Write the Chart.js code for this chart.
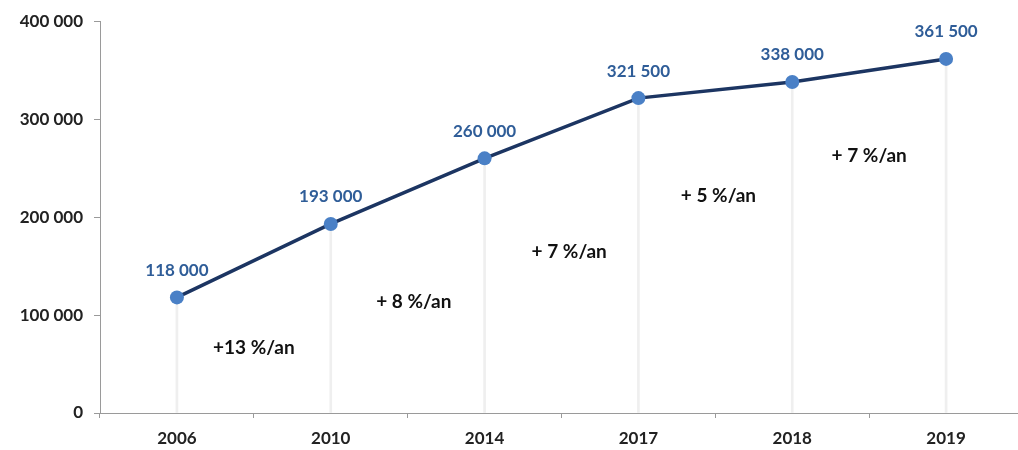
<!DOCTYPE html>
<html>
<head>
<meta charset="utf-8">
<script src="https://cdn.jsdelivr.net/npm/chart.js@4/dist/chart.umd.min.js"></script>
<style>
html,body{margin:0;padding:0;background:#fff;overflow:hidden;}
#wrap{width:1030px;height:450px;position:relative;}
</style>
</head>
<body>
<div id="wrap"><canvas id="c" width="1030" height="450"></canvas></div>
<script>
const categories = ['2006', '2010', '2014', '2017', '2018', '2019'];
const values = [118000, 193000, 260000, 321500, 338000, 361500];
const yTicks = [0, 100000, 200000, 300000, 400000];
const growthLabels = ['+13 %/an', '+ 8 %/an', '+ 7 %/an', '+ 5 %/an', '+ 7 %/an'];
const growthX = [0.5, 1.54, 2.55, 3.52, 4.5];
const growthY = [66000, 113000, 164000, 222000, 263000];

const FONT = 'Lato, "Open Sans", sans-serif';
const fmt = v => String(v).replace(/\B(?=(\d{3})+(?!\d))/g, ' ');

const labelPlugin = {
  id: 'labels',
  afterDatasetsDraw(chart) {
    const ctx = chart.ctx;
    const meta = chart.getDatasetMeta(1);
    ctx.save();
    ctx.font = 'bold 17px ' + FONT;
    ctx.fillStyle = '#2f5d98';
    ctx.textAlign = 'center';
    ctx.textBaseline = 'middle';
    meta.data.forEach((pt, i) => {
      ctx.fillText(fmt(values[i]), pt.x, pt.y - 27);
    });
    const xs = chart.scales.x, ys = chart.scales.y;
    ctx.font = 'bold 19px ' + FONT;
    ctx.fillStyle = '#111';
    growthLabels.forEach((t, i) => {
      ctx.fillText(t, xs.getPixelForValue(growthX[i]), ys.getPixelForValue(growthY[i]));
    });
    ctx.restore();
  }
};

new Chart(document.getElementById('c'), {
  data: {
    labels: categories,
    datasets: [
      {
        type: 'bar',
        data: values,
        backgroundColor: '#efefef',
        barThickness: 2,
        order: 2
      },
      {
        type: 'line',
        data: values,
        borderColor: '#1c3562',
        borderWidth: 3.5,
        pointRadius: 7,
        pointHoverRadius: 7,
        pointBackgroundColor: '#4a80c6',
        pointBorderColor: '#4a80c6',
        pointBorderWidth: 0,
        tension: 0,
        order: 1
      }
    ]
  },
  options: {
    responsive: false,
    animation: false,
    devicePixelRatio: 1,
    layout: { padding: { top: 20, right: 3, bottom: 0, left: 0 } },
    plugins: { legend: { display: false }, tooltip: { enabled: false } },
    scales: {
      x: {
        type: 'category',
        offset: true,
        afterFit: s => { s.height = 37; },
        grid: { offset: true, drawOnChartArea: false, drawTicks: true, tickLength: 5, color: '#9a9a9a' },
        border: { color: '#9a9a9a', width: 1 },
        ticks: { color: '#222', font: { family: FONT, weight: 'bold', size: 17 }, padding: 10 }
      },
      y: {
        min: 0, max: 400000,
        afterFit: s => { s.width = 100; },
        afterBuildTicks: s => { s.ticks = yTicks.map(v => ({ value: v })); },
        grid: { drawOnChartArea: false, drawTicks: true, tickLength: 6, color: '#9a9a9a' },
        border: { color: '#9a9a9a', width: 1 },
        ticks: { color: '#222', font: { family: FONT, weight: 'bold', size: 17 }, padding: 11, callback: v => fmt(v) }
      }
    }
  },
  plugins: [labelPlugin]
});
</script>
</body>
</html>
